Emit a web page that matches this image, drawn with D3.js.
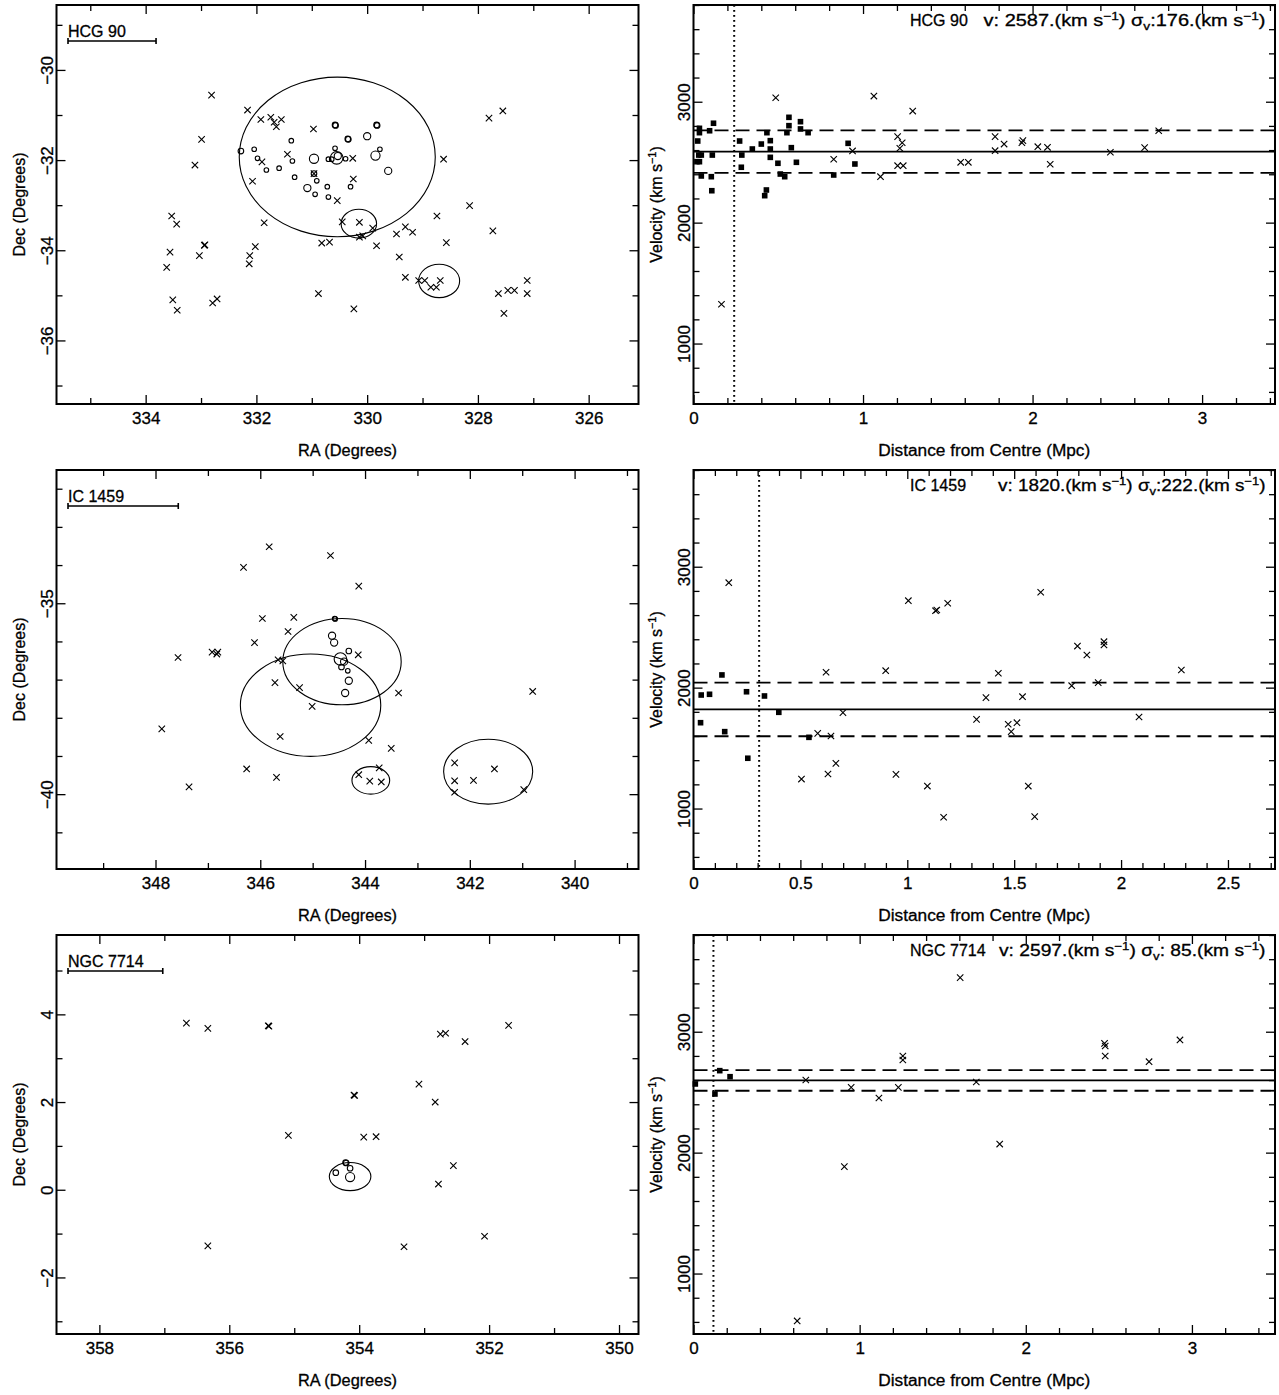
<!DOCTYPE html>
<html>
<head>
<meta charset="utf-8">
<script src="https://cdnjs.cloudflare.com/ajax/libs/d3/7.8.5/d3.min.js"></script>
<style>
  body { margin: 0; background: #fff; }
  text { font-family: "Liberation Sans", Arial, Helvetica, sans-serif; fill: #000; stroke: #000; stroke-width: 0.3px; }
</style>
</head>
<body>
<svg id="fig"></svg>
<script>
// ---- group info ----
const groupNames = ["HCG 90", "IC 1459", "NGC 7714"];
const meanVel = [2587, 1820, 2597];
const sigmaVel = [176, 222, 85];
const limitMpc = [0.24, 0.307, 0.12];        // dotted vertical line
const scaleBarDeg = [1.59, 2.105, 1.459];     // bar under the group name

// ---- axis ranges and ticks ----
const raDomain = [[335.61, 325.10], [349.89, 338.78], [358.66, 349.70]];
const decDomain = [[-37.41, -28.56], [-41.96, -31.51], [-3.29, 5.81]];
const decMajorStep = [2, 5, 2];
const distDomain = [[0, 3.43], [0, 2.72], [0, 3.50]];
const distMinorStep = [0.2, 0.1, 0.2];
const distMajorStep = [1, 0.5, 1];
const velDomain = [500, 3800];
const velMinorStep = 200;
const velLabels = [1000, 2000, 3000];

// ---- sky positions: [RA, Dec, size class] for members, [RA, Dec] for the rest ----
const hcg90Members = [
  [332.28,-31.80,2],[332.04,-31.76,1],[331.98,-31.96,1],[331.82,-32.22,1],[331.59,-32.18,1],
  [331.37,-31.57,1],[331.35,-32.02,1],[331.31,-32.38,1],[330.96,-31.97,4],[330.96,-32.30,2],
  [330.91,-32.46,1],[331.08,-32.62,3],[330.94,-32.76,1],[330.72,-32.59,1],[330.70,-32.82,1],
  [330.58,-31.22,2],[330.57,-31.23,2],[330.35,-31.53,2],[330.34,-31.54,2],[330.58,-31.74,1],
  [330.70,-31.98,1],[330.64,-31.98,1],[330.55,-31.95,5],[330.53,-31.91,3],[330.39,-31.97,1],
  [330.30,-32.59,1],[329.83,-31.22,2],[329.82,-31.23,2],[330.00,-31.47,3],[329.77,-31.76,1],
  [329.85,-31.90,4],[329.62,-32.24,3]
];
const hcg90Others = [
  [332.81,-30.56],[332.16,-30.89],[331.92,-31.10],[331.74,-31.05],[331.68,-31.16],[331.64,-31.26],
  [331.55,-31.10],[330.97,-31.31],[331.44,-31.87],[331.90,-32.04],[332.07,-32.47],[330.26,-31.96],
  [330.25,-32.42],[330.54,-32.90],[328.62,-31.98],[332.99,-31.54],[333.11,-32.11],[327.80,-31.07],
  [327.55,-30.91],[333.53,-33.24],[333.44,-33.42],[333.56,-34.04],[333.62,-34.38],[333.03,-34.12],
  [332.94,-33.89],[332.93,-33.88],[333.51,-35.10],[333.43,-35.33],[332.79,-35.17],[332.71,-35.08],
  [332.12,-34.12],[332.13,-34.30],[332.02,-33.92],[331.86,-33.39],[330.82,-33.84],[330.68,-33.82],
  [330.45,-33.37],[330.14,-33.38],[330.14,-33.71],[330.08,-33.68],[329.90,-33.51],[329.83,-33.90],
  [330.88,-34.96],[330.24,-35.30],[329.47,-33.64],[329.31,-33.48],[329.18,-33.60],[328.74,-33.24],
  [328.15,-33.01],[327.73,-33.57],[328.57,-33.83],[329.42,-34.15],[329.31,-34.60],[329.07,-34.67],
  [328.96,-34.67],[328.85,-34.82],[328.75,-34.82],[328.68,-34.67],[327.63,-34.96],[327.46,-34.89],
  [327.34,-34.89],[327.11,-34.67],[327.11,-34.96],[327.53,-35.40],[330.96,-32.30]
];
const hcg90Rings = [[330.54,-31.93,1.77],[330.15,-33.41,0.32],[328.70,-34.68,0.37]];

const ic1459Members = [
  [344.58,-35.40,1],[344.57,-35.41,1],[344.63,-35.85,3],[344.59,-36.03,3],[344.31,-36.25,2],
  [344.47,-36.46,5],[344.40,-36.53,3],[344.45,-36.67,2],[344.33,-36.77,1],[344.31,-37.03,3],
  [344.38,-37.35,3]
];
const ic1459Others = [
  [345.83,-33.52],[344.66,-33.75],[346.32,-34.06],[344.12,-34.55],[345.96,-35.40],[345.36,-35.37],
  [345.47,-35.74],[346.11,-36.03],[346.92,-36.28],[346.81,-36.28],[346.83,-36.33],[347.57,-36.42],
  [345.66,-36.48],[345.57,-36.51],[344.13,-36.35],[345.72,-37.08],[345.25,-37.21],[345.01,-37.70],
  [343.36,-37.35],[340.80,-37.31],[347.88,-38.29],[345.62,-38.49],[343.93,-38.59],[343.50,-38.80],
  [346.26,-39.34],[345.69,-39.56],[347.36,-39.81],[344.12,-39.49],[343.91,-39.66],[343.69,-39.68],
  [343.73,-39.31],[342.29,-39.18],[342.29,-39.65],[342.29,-39.95],[341.93,-39.64],[341.53,-39.34],
  [340.97,-39.88]
];
const ic1459Rings = [[344.44,-36.53,1.13],[345.04,-37.67,1.34],[343.89,-39.64,0.36],[341.65,-39.41,0.85]];

const ngc7714Members = [[354.21,0.62,2],[354.20,0.61,2],[354.36,0.39,2],[354.14,0.49,2],[354.14,0.29,4]];
const ngc7714Others = [
  [356.66,3.80],[356.33,3.68],[355.40,3.74],[355.39,3.73],[355.09,1.24],[354.08,2.16],[354.07,2.15],
  [353.93,1.20],[353.74,1.21],[353.08,2.41],[352.83,2.00],[352.75,3.55],[352.67,3.57],[352.37,3.38],
  [351.70,3.75],[352.55,0.55],[352.78,0.13],[356.33,-1.28],[353.31,-1.30],[352.07,-1.06]
];
const ngc7714Rings = [[354.14,0.30,0.32]];

// ---- velocity vs distance: [Mpc, km/s] ----
const hcg90VelMembers = [
  [0.035,2780],[0.035,2744],[0.025,2675],[0.031,2559],[0.020,2504],[0.035,2504],[0.046,2559],
  [0.046,2386],[0.095,2760],[0.118,2822],[0.111,2559],[0.105,2380],[0.108,2264],[0.272,2675],
  [0.285,2559],[0.282,2458],[0.347,2609],[0.400,2650],[0.433,2744],[0.453,2678],[0.453,2609],
  [0.453,2540],[0.498,2491],[0.512,2402],[0.538,2380],[0.430,2270],[0.420,2223],[0.551,2744],
  [0.563,2802],[0.563,2871],[0.577,2620],[0.607,2499],[0.631,2835],[0.631,2775],[0.676,2744],
  [0.827,2394],[0.912,2656],[0.952,2485]
];
const hcg90VelOthers = [
  [0.485,3033],[0.827,2524],[0.938,2593],[1.064,3047],[1.103,2380],[1.204,2711],[1.231,2661],
  [1.217,2615],[1.204,2471],[1.237,2471],[1.293,2923],[1.576,2499],[1.621,2499],[1.779,2711],
  [1.779,2595],[1.832,2650],[1.937,2661],[1.943,2678],[2.031,2628],[2.088,2623],[2.104,2483],
  [2.459,2582],[2.661,2620],[2.744,2760],[0.165,1325]
];
const ic1459VelMembers = [
  [0.036,1939],[0.075,1945],[0.133,2105],[0.248,1966],[0.332,1931],[0.033,1710],[0.146,1636],
  [0.399,1796],[0.254,1416],[0.540,1589]
];
const ic1459VelOthers = [
  [0.165,2868],[0.620,2127],[0.899,2140],[1.005,2719],[1.132,2636],[1.138,2642],[1.189,2698],
  [1.624,2789],[1.426,2119],[1.796,2344],[1.840,2270],[1.920,2380],[1.920,2353],[2.282,2146],
  [1.769,2016],[1.893,2041],[1.368,1917],[1.539,1925],[0.699,1793],[1.324,1738],[1.472,1697],
  [1.513,1710],[1.486,1636],[2.084,1757],[0.581,1622],[0.643,1600],[0.666,1374],[0.629,1286],
  [0.505,1244],[0.947,1283],[1.094,1186],[1.566,1186],[1.170,928],[1.596,933]
];
const ngc7714VelMembers = [[0.011,2568],[0.158,2678],[0.220,2628],[0.129,2485]];
const ngc7714VelOthers = [
  [1.605,3447],[0.676,2601],[0.949,2540],[1.116,2452],[1.233,2540],[1.260,2799],[1.260,2766],
  [1.702,2584],[1.843,2071],[0.908,1884],[0.624,608],[2.474,2904],[2.478,2882],[2.478,2799],
  [2.742,2752],[2.928,2932]
];

// ---- layout ----
const W = 1279, H = 1395;
const LEFT = {x0: 56.5, x1: 638.5}, RIGHT = {x0: 693.5, x1: 1275};
const ROWS = [5, 470, 935], PH = 399;
const MAJOR = 9, MINOR = 6;
const ANNOT_V_X = [983.6, 998, 999];   // where the "v:" string begins in each right panel
const FONT = "'Liberation Sans', Arial, Helvetica, sans-serif";

const svg = d3.select("#fig").attr("width", W).attr("height", H);
svg.append("rect").attr("width", W).attr("height", H).attr("fill", "#fff");

const sizeRadius = d3.scaleOrdinal().domain([1, 2, 3, 4, 5]).range([2.3, 2.8, 3.6, 4.6, 6.3]);

function steps(domain, step) {
  const lo = Math.min(...domain), hi = Math.max(...domain);
  const out = [];
  for (let i = Math.ceil(lo / step - 1e-9); i * step <= hi + 1e-9; i++) out.push(+(i * step).toFixed(6));
  return out;
}
const isMult = (v, s) => Math.abs(v / s - Math.round(v / s)) < 1e-6;

function side(g, axisFn, scale, values, size, fmt, transform) {
  const a = axisFn(scale).tickValues(values).tickSizeInner(-size).tickSizeOuter(0)
    .tickPadding(8).tickFormat(fmt || (() => ""));
  const s = g.append("g").attr("transform", transform).call(a);
  s.attr("font-family", FONT).attr("font-size", 17);
  s.select(".domain").remove();
  s.selectAll(".tick line").attr("stroke", "#000").attr("stroke-width", 1.3);
  s.selectAll(".tick text").attr("fill", "#000");
  return s;
}

function frameAxes(g, x, y, box, xt, xMaj, xFmt, yt, yMaj, yFmt) {
  const {x0, x1, y0, y1} = box;
  const xMn = xt.filter(v => !xMaj(v)), xMj = xt.filter(xMaj);
  const yMn = yt.filter(v => !yMaj(v)), yMj = yt.filter(yMaj);
  side(g, d3.axisBottom, x, xMn, MINOR, null, `translate(0,${y1})`);
  side(g, d3.axisBottom, x, xMj, MAJOR, xFmt, `translate(0,${y1})`);
  side(g, d3.axisTop, x, xMn, MINOR, null, `translate(0,${y0})`);
  side(g, d3.axisTop, x, xMj, MAJOR, null, `translate(0,${y0})`);
  side(g, d3.axisLeft, y, yMn, MINOR, null, `translate(${x0},0)`);
  const l = side(g, d3.axisLeft, y, yMj, MAJOR, yFmt, `translate(${x0},0)`);
  l.selectAll(".tick text").attr("x", 0).attr("dy", 0).attr("text-anchor", "middle")
    .attr("transform", "translate(-4,0) rotate(-90)");
  side(g, d3.axisRight, y, yMn, MINOR, null, `translate(${x1},0)`);
  side(g, d3.axisRight, y, yMj, MAJOR, null, `translate(${x1},0)`);
  g.append("rect").attr("x", x0).attr("y", y0).attr("width", x1 - x0).attr("height", y1 - y0)
    .attr("fill", "none").attr("stroke", "#000").attr("stroke-width", 2);
}

function crossPath(cx, cy, s) {
  return `M${cx - s},${cy - s}L${cx + s},${cy + s}M${cx - s},${cy + s}L${cx + s},${cy - s}`;
}

function titles(g, box, xTitle, xTitleLen, yTitleParts) {
  const {x0, x1, y0, y1} = box;
  const xt = g.append("text").attr("x", (x0 + x1) / 2 - xTitleLen / 2).attr("y", y1 + 52)
    .attr("font-size", 16).attr("textLength", xTitleLen).attr("lengthAdjust", "spacingAndGlyphs")
    .text(xTitle);
  const t = g.append("text").attr("text-anchor", "middle").attr("font-size", 16)
    .attr("transform", `translate(${x0 - 31.5},${(y0 + y1) / 2}) rotate(-90)`);
  yTitleParts(t);
}

function skyPanel(row, members, others, rings) {
  const box = {x0: LEFT.x0, x1: LEFT.x1, y0: ROWS[row], y1: ROWS[row] + PH};
  const x = d3.scaleLinear().domain(raDomain[row]).range([box.x0, box.x1]);
  const y = d3.scaleLinear().domain(decDomain[row]).range([box.y1, box.y0]);
  const g = svg.append("g");

  g.selectAll("ellipse.ring").data(rings).join("ellipse")
    .attr("cx", d => x(d[0])).attr("cy", d => y(d[1]))
    .attr("rx", d => Math.abs(x(d[0] + d[2]) - x(d[0])))
    .attr("ry", d => Math.abs(y(d[1] + d[2]) - y(d[1])))
    .attr("fill", "none").attr("stroke", "#000").attr("stroke-width", 1.1);

  g.selectAll("circle.mem").data(members).join("circle")
    .attr("cx", d => x(d[0])).attr("cy", d => y(d[1])).attr("r", d => sizeRadius(d[2]))
    .attr("fill", "none").attr("stroke", "#000").attr("stroke-width", 1.1);

  g.selectAll("path.oth").data(others).join("path")
    .attr("d", d => crossPath(x(d[0]), y(d[1]), 3.2))
    .attr("stroke", "#000").attr("stroke-width", 1.1).attr("fill", "none");

  frameAxes(g, x, y, box,
    steps(raDomain[row], 1), v => isMult(v, 2), d3.format("d"),
    steps(decDomain[row], 1), v => isMult(v, decMajorStep[row]), d3.format("d"));

  // group name and scale bar
  const bx = box.x0 + 11.5, by = box.y0 + 36;
  const r0 = raDomain[row][0];
  const barLen = Math.abs(x(r0 - scaleBarDeg[row]) - x(r0));
  g.append("text").attr("x", bx).attr("y", box.y0 + 31.5).attr("font-size", 16)
    .attr("xml:space", "preserve").text(groupNames[row]);
  g.append("path")
    .attr("d", `M${bx},${by}H${bx + barLen}M${bx},${by - 3}V${by + 3}M${bx + barLen},${by - 3}V${by + 3}`)
    .attr("stroke", "#000").attr("stroke-width", 1.6).attr("fill", "none");

  titles(g, box, "RA (Degrees)", 99, t => t.text("Dec (Degrees)"));
}

function velPanel(row, members, others) {
  const box = {x0: RIGHT.x0, x1: RIGHT.x1, y0: ROWS[row], y1: ROWS[row] + PH};
  const x = d3.scaleLinear().domain(distDomain[row]).range([box.x0, box.x1]);
  const y = d3.scaleLinear().domain(velDomain).range([box.y1, box.y0]);
  const g = svg.append("g");

  // mean and +/- sigma
  const m = meanVel[row], s = sigmaVel[row];
  g.append("line").attr("x1", box.x0).attr("x2", box.x1).attr("y1", y(m)).attr("y2", y(m))
    .attr("stroke", "#000").attr("stroke-width", 1.8);
  [m - s, m + s].forEach(v => {
    g.append("line").attr("x1", box.x0).attr("x2", box.x1).attr("y1", y(v)).attr("y2", y(v))
      .attr("stroke", "#000").attr("stroke-width", 1.8).attr("stroke-dasharray", "14,7");
  });
  g.append("line").attr("x1", x(limitMpc[row])).attr("x2", x(limitMpc[row]))
    .attr("y1", box.y0).attr("y2", box.y1)
    .attr("stroke", "#000").attr("stroke-width", 2).attr("stroke-dasharray", "1.8,3.2");

  g.selectAll("rect.mem").data(members).join("rect")
    .attr("x", d => x(d[0]) - 2.8).attr("y", d => y(d[1]) - 2.8)
    .attr("width", 5.6).attr("height", 5.6).attr("fill", "#000");

  g.selectAll("path.oth").data(others).join("path")
    .attr("d", d => crossPath(x(d[0]), y(d[1]), 3.2))
    .attr("stroke", "#000").attr("stroke-width", 1.1).attr("fill", "none");

  const dfmt = v => (Math.abs(v - Math.round(v)) < 1e-6 ? String(Math.round(v)) : String(v));
  frameAxes(g, x, y, box,
    steps(distDomain[row], distMinorStep[row]), v => isMult(v, distMajorStep[row]), dfmt,
    steps(velDomain, velMinorStep), v => velLabels.includes(v), d3.format("d"));

  // annotation: name, then mean velocity and dispersion
  const ty = box.y0 + 21;
  g.append("text").attr("x", box.x0 + 216.5).attr("y", ty).attr("font-size", 16)
    .attr("xml:space", "preserve").text(groupNames[row]);
  const vx = ANNOT_V_X[row];
  const t = g.append("text").attr("x", vx).attr("y", ty).attr("font-size", 16)
    .attr("xml:space", "preserve").style("white-space", "pre")
    .attr("textLength", box.x1 - 9.5 - vx).attr("lengthAdjust", "spacingAndGlyphs");
  t.append("tspan").text(`v: ${m}.(km s`);
  t.append("tspan").attr("dy", -6).attr("font-size", 11).text("−1");
  t.append("tspan").attr("dy", 6).text(") σ");
  t.append("tspan").attr("dy", 4).attr("font-size", 11).text("v");
  t.append("tspan").attr("dy", -4).text(`:${String(s).padStart(3, " ")}.(km s`);
  t.append("tspan").attr("dy", -6).attr("font-size", 11).text("−1");
  t.append("tspan").attr("dy", 6).text(")");

  titles(g, box, "Distance from Centre (Mpc)", 212, tt => {
    tt.append("tspan").text("Velocity (km s");
    tt.append("tspan").attr("dy", -6).attr("font-size", 11).text("−1");
    tt.append("tspan").attr("dy", 6).text(")");
  });
}

skyPanel(0, hcg90Members, hcg90Others, hcg90Rings);
skyPanel(1, ic1459Members, ic1459Others, ic1459Rings);
skyPanel(2, ngc7714Members, ngc7714Others, ngc7714Rings);
velPanel(0, hcg90VelMembers, hcg90VelOthers);
velPanel(1, ic1459VelMembers, ic1459VelOthers);
velPanel(2, ngc7714VelMembers, ngc7714VelOthers);
</script>
</body>
</html>
